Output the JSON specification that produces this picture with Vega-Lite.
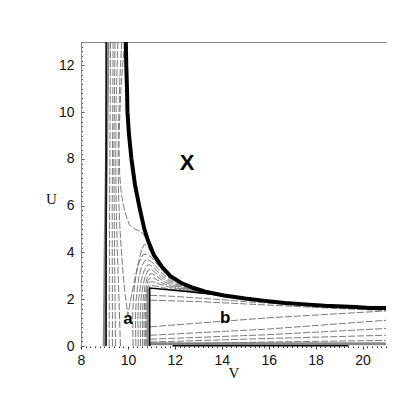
{
  "$schema": "https://vega.github.io/schema/vega-lite/v6.json",
  "width": 305,
  "height": 304,
  "autosize": {"type": "none"},
  "padding": {"left": 81, "top": 42, "right": 21, "bottom": 61},
  "background": "white",
  "config": {"view": {"stroke": null}},
  "datasets": {
    "thick": [
      {"s":"sep","v":9.91,"u":13},{"s":"sep","v":9.93,"u":12},{"s":"sep","v":9.96,"u":11},{"s":"sep","v":9.98,"u":10},
      {"s":"sep","v":10.05,"u":9},{"s":"sep","v":10.15,"u":8},{"s":"sep","v":10.3,"u":6.9},{"s":"sep","v":10.5,"u":5.9},
      {"s":"sep","v":10.7,"u":5.0},{"s":"sep","v":10.86,"u":4.5},{"s":"sep","v":11.1,"u":3.9},{"s":"sep","v":11.44,"u":3.4},
      {"s":"sep","v":11.8,"u":3.0},{"s":"sep","v":12.3,"u":2.68},{"s":"sep","v":12.8,"u":2.48},{"s":"sep","v":13.3,"u":2.32},
      {"s":"sep","v":14.1,"u":2.16},{"s":"sep","v":15,"u":2.03},{"s":"sep","v":15.85,"u":1.93},{"s":"sep","v":16.7,"u":1.84},
      {"s":"sep","v":17.55,"u":1.78},{"s":"sep","v":18.4,"u":1.72},{"s":"sep","v":19.7,"u":1.67},{"s":"sep","v":20.3,"u":1.63},
      {"s":"sep","v":21,"u":1.62}
    ],
    "black": [
      {"s":"k1","v":9.07,"u":0},{"s":"k1","v":9.07,"u":13},
      {"s":"k2","v":10.93,"u":0},{"s":"k2","v":10.93,"u":2.48},{"s":"k2","v":11.5,"u":2.43},{"s":"k2","v":12.5,"u":2.33},{"s":"k2","v":13.5,"u":2.22},{"s":"k2","v":14.2,"u":2.15},
      {"s":"k3","v":11.9,"u":0.01},{"s":"k3","v":19.4,"u":0.01}
    ],
    "band": [
      {"s":"g1","v":8.99,"u":0},{"s":"g1","v":9.03,"u":4},{"s":"g1","v":9.1,"u":9},{"s":"g1","v":9.15,"u":13},
      {"s":"g2","v":10.86,"u":0},{"s":"g2","v":10.86,"u":2.45},
      {"s":"g3","v":10.93,"u":0.1},{"s":"g3","v":21,"u":0.1}
    ],
    "thin": [
      {"s":"a1","v":9.2,"u":0},{"s":"a1","v":9.22,"u":6},{"s":"a1","v":9.26,"u":13},
      {"s":"a2","v":9.34,"u":0},{"s":"a2","v":9.33,"u":6},{"s":"a2","v":9.37,"u":13},
      {"s":"a3","v":9.47,"u":0},{"s":"a3","v":9.43,"u":4},{"s":"a3","v":9.4,"u":8},{"s":"a3","v":9.45,"u":13},
      {"s":"a4","v":9.68,"u":0},{"s":"a4","v":9.62,"u":2},{"s":"a4","v":9.55,"u":4},{"s":"a4","v":9.5,"u":6},{"s":"a4","v":9.48,"u":8},{"s":"a4","v":9.5,"u":10.5},{"s":"a4","v":9.57,"u":13},
      {"s":"c0","v":9.86,"u":13},{"s":"c0","v":9.8,"u":12.3},{"s":"c0","v":9.7,"u":11},{"s":"c0","v":9.64,"u":9.5},{"s":"c0","v":9.62,"u":8.5},{"s":"c0","v":9.65,"u":7.3},{"s":"c0","v":9.72,"u":6.5},{"s":"c0","v":9.85,"u":5.8},{"s":"c0","v":10.05,"u":5.2},{"s":"c0","v":10.3,"u":5.0},{"s":"c0","v":10.5,"u":4.9},{"s":"c0","v":10.65,"u":4.8},{"s":"c0","v":10.8,"u":4.55},{"s":"c0","v":11.0,"u":4.1},{"s":"c0","v":11.2,"u":3.62},{"s":"c0","v":11.6,"u":3.15},{"s":"c0","v":12.2,"u":2.74},{"s":"c0","v":13,"u":2.44},{"s":"c0","v":14,"u":2.2},{"s":"c0","v":15,"u":2.05},
      {"s":"c1","v":9.74,"u":13},{"s":"c1","v":9.66,"u":11.5},{"s":"c1","v":9.6,"u":9.5},{"s":"c1","v":9.58,"u":8},{"s":"c1","v":9.6,"u":6.5},{"s":"c1","v":9.66,"u":5},{"s":"c1","v":9.76,"u":3.5},{"s":"c1","v":9.88,"u":2.2},{"s":"c1","v":10.0,"u":1.32},{"s":"c1","v":10.12,"u":2.0},{"s":"c1","v":10.3,"u":2.9},{"s":"c1","v":10.44,"u":3.54},{"s":"c1","v":10.58,"u":4.1},{"s":"c1","v":10.7,"u":4.35},{"s":"c1","v":10.85,"u":4.25},{"s":"c1","v":11.05,"u":3.9},{"s":"c1","v":11.4,"u":3.4},{"s":"c1","v":11.8,"u":3.02},{"s":"c1","v":12.4,"u":2.68},{"s":"c1","v":13,"u":2.45},{"s":"c1","v":14,"u":2.2},{"s":"c1","v":15,"u":2.05},
      {"s":"j0","v":10.22,"u":0},{"s":"j0","v":10.2,"u":1.2},{"s":"j0","v":10.24,"u":2.2},{"s":"j0","v":10.34,"u":3.0},{"s":"j0","v":10.48,"u":3.6},{"s":"j0","v":10.64,"u":3.9},{"s":"j0","v":10.8,"u":3.93},{"s":"j0","v":11,"u":3.8},{"s":"j0","v":11.5,"u":3.18},{"s":"j0","v":12,"u":2.79},{"s":"j0","v":12.5,"u":2.55},{"s":"j0","v":13,"u":2.39},{"s":"j0","v":13.5,"u":2.27},{"s":"j0","v":14,"u":2.18},{"s":"j0","v":15,"u":2.04},
      {"s":"j1","v":10.34,"u":0},{"s":"j1","v":10.32,"u":1.2},{"s":"j1","v":10.36,"u":2.1},{"s":"j1","v":10.46,"u":2.9},{"s":"j1","v":10.58,"u":3.4},{"s":"j1","v":10.72,"u":3.65},{"s":"j1","v":10.86,"u":3.68},{"s":"j1","v":11,"u":3.61},{"s":"j1","v":11.5,"u":3.07},{"s":"j1","v":12,"u":2.73},{"s":"j1","v":12.5,"u":2.52},{"s":"j1","v":13,"u":2.375},{"s":"j1","v":13.5,"u":2.26},{"s":"j1","v":14,"u":2.175},{"s":"j1","v":15,"u":2.04},
      {"s":"j2","v":10.44,"u":0},{"s":"j2","v":10.42,"u":1.2},{"s":"j2","v":10.46,"u":2.0},{"s":"j2","v":10.56,"u":2.75},{"s":"j2","v":10.68,"u":3.2},{"s":"j2","v":10.8,"u":3.44},{"s":"j2","v":10.92,"u":3.48},{"s":"j2","v":11.05,"u":3.38},{"s":"j2","v":11.5,"u":2.97},{"s":"j2","v":12,"u":2.67},{"s":"j2","v":12.5,"u":2.485},{"s":"j2","v":13,"u":2.36},{"s":"j2","v":13.5,"u":2.255},{"s":"j2","v":14,"u":2.17},
      {"s":"j3","v":10.54,"u":0},{"s":"j3","v":10.52,"u":1.2},{"s":"j3","v":10.56,"u":2.0},{"s":"j3","v":10.65,"u":2.65},{"s":"j3","v":10.76,"u":3.05},{"s":"j3","v":10.87,"u":3.25},{"s":"j3","v":10.97,"u":3.28},{"s":"j3","v":11.1,"u":3.2},{"s":"j3","v":11.5,"u":2.87},{"s":"j3","v":12,"u":2.615},{"s":"j3","v":12.5,"u":2.455},{"s":"j3","v":13,"u":2.34},{"s":"j3","v":13.5,"u":2.25},{"s":"j3","v":14,"u":2.17},
      {"s":"j4","v":10.63,"u":0},{"s":"j4","v":10.61,"u":1.2},{"s":"j4","v":10.65,"u":2.0},{"s":"j4","v":10.73,"u":2.6},{"s":"j4","v":10.83,"u":2.93},{"s":"j4","v":10.93,"u":3.08},{"s":"j4","v":11.03,"u":3.09},{"s":"j4","v":11.2,"u":3.0},{"s":"j4","v":11.5,"u":2.77},{"s":"j4","v":12,"u":2.56},{"s":"j4","v":12.5,"u":2.43},{"s":"j4","v":13,"u":2.33},{"s":"j4","v":13.5,"u":2.24},{"s":"j4","v":14,"u":2.17},
      {"s":"j5","v":10.7,"u":0},{"s":"j5","v":10.68,"u":1.2},{"s":"j5","v":10.72,"u":2.0},{"s":"j5","v":10.78,"u":2.5},{"s":"j5","v":10.86,"u":2.8},{"s":"j5","v":10.95,"u":2.92},{"s":"j5","v":11.05,"u":2.92},{"s":"j5","v":11.2,"u":2.85},{"s":"j5","v":11.5,"u":2.68},{"s":"j5","v":12,"u":2.51},{"s":"j5","v":12.5,"u":2.4},{"s":"j5","v":13,"u":2.31},{"s":"j5","v":13.5,"u":2.24},{"s":"j5","v":14,"u":2.17},
      {"s":"j6","v":10.76,"u":0},{"s":"j6","v":10.74,"u":1.2},{"s":"j6","v":10.77,"u":2.0},{"s":"j6","v":10.82,"u":2.45},{"s":"j6","v":10.9,"u":2.68},{"s":"j6","v":10.98,"u":2.76},{"s":"j6","v":11.1,"u":2.74},{"s":"j6","v":11.5,"u":2.59},{"s":"j6","v":12,"u":2.46},{"s":"j6","v":12.5,"u":2.37},{"s":"j6","v":13,"u":2.3},{"s":"j6","v":13.5,"u":2.23},{"s":"j6","v":14,"u":2.17},
      {"s":"j7","v":10.81,"u":0},{"s":"j7","v":10.8,"u":1.2},{"s":"j7","v":10.82,"u":2.1},{"s":"j7","v":10.86,"u":2.42},{"s":"j7","v":10.92,"u":2.56},{"s":"j7","v":11.0,"u":2.6},{"s":"j7","v":11.5,"u":2.49},{"s":"j7","v":12,"u":2.41},{"s":"j7","v":12.5,"u":2.34},{"s":"j7","v":13,"u":2.28},{"s":"j7","v":14,"u":2.17},
      {"s":"ba","v":10.95,"u":2.17},{"s":"ba","v":12,"u":2.12},{"s":"ba","v":13,"u":2.05},{"s":"ba","v":14,"u":1.98},{"s":"ba","v":15,"u":1.9},{"s":"ba","v":16,"u":1.83},{"s":"ba","v":17,"u":1.76},{"s":"ba","v":18,"u":1.7},{"s":"ba","v":19,"u":1.64},{"s":"ba","v":20,"u":1.59},{"s":"ba","v":21,"u":1.55},
      {"s":"bb","v":10.95,"u":1.96},{"s":"bb","v":13,"u":1.9},{"s":"bb","v":15,"u":1.8},{"s":"bb","v":17,"u":1.7},{"s":"bb","v":19,"u":1.6},{"s":"bb","v":21,"u":1.52},
      {"s":"b1","v":10.95,"u":0.82},{"s":"b1","v":15.9,"u":1.2},{"s":"b1","v":21,"u":1.5},
      {"s":"b2","v":10.95,"u":0.46},{"s":"b2","v":15.9,"u":0.72},{"s":"b2","v":21,"u":1.1},
      {"s":"b3","v":10.95,"u":0.29},{"s":"b3","v":15.9,"u":0.48},{"s":"b3","v":21,"u":0.75},
      {"s":"b4","v":10.95,"u":0.17},{"s":"b4","v":15.9,"u":0.32},{"s":"b4","v":21,"u":0.46},
      {"s":"b5","v":10.95,"u":0.07},{"s":"b5","v":15.9,"u":0.17},{"s":"b5","v":21,"u":0.24}
    ],
    "labels": [
      {"t":"X","v":12.52,"u":7.84,"g":"big"},
      {"t":"a","v":10.0,"u":1.17,"g":"small"},
      {"t":"b","v":14.15,"u":1.19,"g":"small"}
    ]
  },
  "resolve": {"axis": {"x": "independent", "y": "independent"}},
  "layer": [
    {
      "data": {"name": "band"},
      "mark": {"type": "line", "stroke": "#8a8a8a", "strokeWidth": 3},
      "encoding": {
        "x": {"field": "v", "type": "quantitative", "scale": {"domain": [8, 21], "nice": false, "zero": false},
          "axis": {"orient": "bottom", "title": "V", "values": [8,8.2,8.4,8.6,8.8,9,9.2,9.4,9.6,9.8,10,10.2,10.4,10.6,10.8,11,11.2,11.4,11.6,11.8,12,12.2,12.4,12.6,12.8,13,13.2,13.4,13.6,13.8,14,14.2,14.4,14.6,14.8,15,15.2,15.4,15.6,15.8,16,16.2,16.4,16.6,16.8,17,17.2,17.4,17.6,17.8,18,18.2,18.4,18.6,18.8,19,19.2,19.4,19.6,19.8,20,20.2,20.4,20.6,20.8,21],
            "labelExpr": "(datum.value % 2 == 0 && datum.value < 21) ? format(datum.value, 'd') : ''",
            "labelOverlap": false, "labelFlush": false, "domain": false, "grid": false,
            "tickColor": "#333", "tickWidth": 1,
            "tickSize": {"condition": {"test": "datum.value % 2 == 0", "value": 3}, "value": 1.5},
            "labelFont": "Liberation Sans", "labelFontSize": 14, "labelColor": "#111", "labelPadding": 4,
            "titleFont": "Liberation Serif", "titleFontSize": 15, "titleFontWeight": "normal", "titleColor": "#111",
            "titleY": 26, "titleBaseline": "middle"}},
        "y": {"field": "u", "type": "quantitative", "scale": {"domain": [0, 13], "nice": false, "zero": false},
          "axis": {"orient": "left", "title": "U", "values": [0,0.2,0.4,0.6,0.8,1,1.2,1.4,1.6,1.8,2,2.2,2.4,2.6,2.8,3,3.2,3.4,3.6,3.8,4,4.2,4.4,4.6,4.8,5,5.2,5.4,5.6,5.8,6,6.2,6.4,6.6,6.8,7,7.2,7.4,7.6,7.8,8,8.2,8.4,8.6,8.8,9,9.2,9.4,9.6,9.8,10,10.2,10.4,10.6,10.8,11,11.2,11.4,11.6,11.8,12,12.2,12.4,12.6,12.8,13],
            "labelExpr": "(datum.value % 2 == 0 && datum.value < 13) ? format(datum.value, 'd') : ''",
            "labelOverlap": false, "labelFlush": false, "domain": true, "domainColor": "#888", "domainWidth": 1, "grid": false,
            "tickColor": "#555", "tickWidth": 1,
            "tickSize": {"condition": {"test": "datum.value % 2 == 0", "value": -3}, "value": -1.5},
            "labelFont": "Liberation Sans", "labelFontSize": 14, "labelColor": "#111", "labelPadding": 10,
            "titleFont": "Liberation Serif", "titleFontSize": 15, "titleFontWeight": "normal", "titleColor": "#111",
            "titleAngle": 0, "titleX": -30, "titleY": 156, "titleAlign": "center", "titleBaseline": "middle"}},
        "detail": {"field": "s"},
        "order": {"value": null}
      }
    },
    {
      "data": {"name": "thin"},
      "mark": {"type": "line", "stroke": "#7a7a7a", "strokeWidth": 1, "strokeDash": [7, 2]},
      "encoding": {
        "x": {"field": "v", "type": "quantitative", "scale": {"domain": [8, 21], "nice": false, "zero": false},
          "axis": {"orient": "top", "title": null, "labels": false, "ticks": false, "grid": false, "domain": true, "domainColor": "#888", "domainWidth": 1}},
        "y": {"field": "u", "type": "quantitative", "scale": {"domain": [0, 13], "nice": false, "zero": false}, "axis": null},
        "detail": {"field": "s"},
        "order": {"value": null}
      }
    },
    {
      "data": {"name": "black"},
      "mark": {"type": "line", "stroke": "#000", "strokeWidth": 1.5},
      "encoding": {
        "x": {"field": "v", "type": "quantitative", "scale": {"domain": [8, 21], "nice": false, "zero": false}, "axis": null},
        "y": {"field": "u", "type": "quantitative", "scale": {"domain": [0, 13], "nice": false, "zero": false}, "axis": null},
        "detail": {"field": "s"},
        "order": {"value": null}
      }
    },
    {
      "data": {"name": "thick"},
      "mark": {"type": "line", "stroke": "#000", "strokeWidth": 4},
      "encoding": {
        "x": {"field": "v", "type": "quantitative", "scale": {"domain": [8, 21], "nice": false, "zero": false}, "axis": null},
        "y": {"field": "u", "type": "quantitative", "scale": {"domain": [0, 13], "nice": false, "zero": false}, "axis": null},
        "detail": {"field": "s"},
        "order": {"value": null}
      }
    },
    {
      "data": {"name": "labels"},
      "transform": [{"filter": "datum.g == 'big'"}],
      "mark": {"type": "text", "font": "Liberation Sans", "fontWeight": "bold", "fontSize": 22, "align": "center", "baseline": "middle", "color": "#000"},
      "encoding": {
        "x": {"field": "v", "type": "quantitative", "scale": {"domain": [8, 21], "nice": false, "zero": false}, "axis": null},
        "y": {"field": "u", "type": "quantitative", "scale": {"domain": [0, 13], "nice": false, "zero": false}, "axis": null},
        "text": {"field": "t"}
      }
    },
    {
      "data": {"name": "labels"},
      "transform": [{"filter": "datum.g == 'small'"}],
      "mark": {"type": "text", "font": "Liberation Sans", "fontWeight": "bold", "fontSize": 17, "align": "center", "baseline": "middle", "color": "#000"},
      "encoding": {
        "x": {"field": "v", "type": "quantitative", "scale": {"domain": [8, 21], "nice": false, "zero": false}, "axis": null},
        "y": {"field": "u", "type": "quantitative", "scale": {"domain": [0, 13], "nice": false, "zero": false}, "axis": null},
        "text": {"field": "t"}
      }
    }
  ]
}
